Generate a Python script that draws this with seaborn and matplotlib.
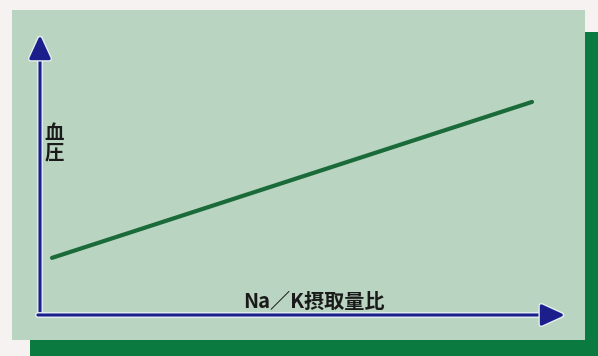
import matplotlib
matplotlib.use("Agg")
import matplotlib.pyplot as plt
import matplotlib.patheffects as pe
from matplotlib.patches import Rectangle
import seaborn as sns
import pandas as pd

# Conceptual relation: blood pressure rises with the Na/K intake ratio
na_k_ratio = [1.0, 9.0]
blood_pressure = [20.4, 76.1]
x_label = "Na／K摂取量比"
y_label = "血圧"

sns.set_theme(style="white")
plt.rcParams["font.family"] = ["Noto Sans CJK JP", "DejaVu Sans"]

W, H = 598, 356
fig = plt.figure(figsize=(W / 100, H / 100), dpi=100, facecolor="#f6f2f2")

def fx(px):
    return px / W

def fy(py):
    return (H - py) / H

# dark green drop shadow behind the panel
fig.patches.append(Rectangle((fx(30), -0.05), 1.1, fy(32) + 0.05,
                             transform=fig.transFigure, facecolor="#0b7a40",
                             edgecolor="none", zorder=0))
# light green panel
fig.patches.append(Rectangle((fx(12), fy(340)), fx(585) - fx(12), fy(10) - fy(340),
                             transform=fig.transFigure, facecolor="#b9d5c1",
                             edgecolor="none", zorder=1))

ax = fig.add_axes([fx(40), fy(315), fx(565) - fx(40), fy(35) - fy(315)])
ax.set_facecolor("none")
ax.set_zorder(2)

df = pd.DataFrame({"ratio": na_k_ratio, "bp": blood_pressure})
sns.lineplot(data=df, x="ratio", y="bp", ax=ax, color="#1b6b3a", linewidth=3.0,
             solid_capstyle="round")

ax.set_xlim(0.8, 9.55)
ax.set_ylim(0, 100)
ax.set_xticks([])
ax.set_yticks([])
ax.set_xlabel("")
ax.set_ylabel("")
for s in ax.spines.values():
    s.set_visible(False)

navy = "#1a1f8c"
halo = [pe.Stroke(linewidth=4.2, foreground="#e4eef0"), pe.Normal()]

# axis arrows
for start, end in [((0, 0), (0, 1)), ((-0.004, 0), (1, 0))]:
    ax.annotate("", xy=end, xytext=start, xycoords="axes fraction",
                textcoords="axes fraction", annotation_clip=False,
                arrowprops=dict(arrowstyle="-|>,head_length=1.2,head_width=0.55",
                                mutation_scale=12, color=navy, lw=2.2,
                                shrinkA=0, shrinkB=0, path_effects=halo))

ax.text(0.027, 0.614, "\n".join(y_label), transform=ax.transAxes,
        ha="center", va="center", fontsize=14, fontweight="bold",
        color="#1a1a1a", linespacing=1.0)
ax.text(0.522, 0.05, x_label, transform=ax.transAxes, ha="center",
        va="center", fontsize=14.5, fontweight="bold", color="#1a1a1a")

fig.savefig("out.png", dpi=100, facecolor=fig.get_facecolor())
